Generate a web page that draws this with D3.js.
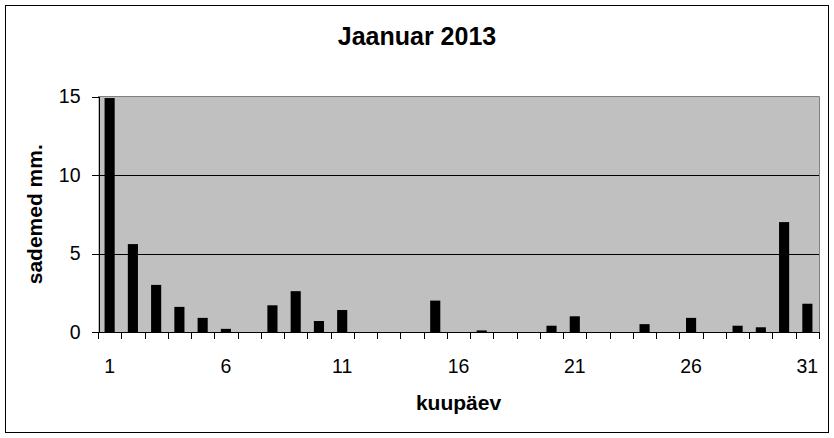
<!DOCTYPE html>
<html lang="et">
<head>
  <meta charset="UTF-8">
  <script src="https://cdn.jsdelivr.net/npm/d3@7"></script>
  <title>Jaanuar 2013</title>
  <style>
    body { margin: 0; background: white; }
    * { font-family: 'Liberation Sans', Arial, sans-serif; }
    .axis text { font-size: 19.5px; fill: black; }
    .axis line, .axis path { stroke: black; shape-rendering: crispEdges; }
    .title { font-size: 25px; font-weight: bold; text-anchor: middle; }
    .label { font-size: 21px; font-weight: bold; text-anchor: middle; }
  </style>
</head>
<body>
  <script>
    // sademed (mm) päevade kaupa
    const days = d3.range(1, 32);
    const rain = [14.9, 5.6, 3.0, 1.6, 0.9, 0.2, 0, 1.7, 2.6, 0.7,
                  1.4, 0, 0, 0, 2.0, 0, 0.1, 0, 0, 0.4,
                  1.0, 0, 0, 0.5, 0, 0.9, 0, 0.4, 0.3, 7.0, 1.8];
    const yTicks = [0, 5, 10, 15];
    const xTicks = [1, 6, 11, 16, 21, 26, 31];

    const width = 834, height = 438;
    const plotL = 98, plotR = 819, plotT = 96.5, plotB = 332;

    const svg = d3.select('body').append('svg').attr('width', width).attr('height', height);

    svg.append('rect').attr('x', 5.5).attr('y', 5.5).attr('width', 823).attr('height', 427)
      .attr('fill', 'white').attr('stroke', 'black');

    const x = d3.scaleBand().domain(days).range([plotL, plotR])
      .paddingInner(0.565).paddingOuter(0.2825);
    const y = d3.scaleLinear().domain([0, 15]).range([plotB, plotT]);

    // plot area
    svg.append('rect').attr('x', plotL).attr('y', plotT).attr('width', plotR - plotL).attr('height', plotB - plotT)
      .attr('fill', '#c0c0c0');

    svg.append('g').selectAll('line').data(yTicks.filter(d => d > 0 && d < 15)).enter().append('line')
      .attr('x1', plotL).attr('x2', plotR).attr('y1', d => Math.round(y(d)) + 0.5).attr('y2', d => Math.round(y(d)) + 0.5)
      .attr('stroke', 'black');

    svg.append('path').attr('d', `M${plotL},${plotT}H${plotR + 0.5}V${plotB}`)
      .attr('fill', 'none').attr('stroke', '#808080');

    svg.append('g').selectAll('rect').data(days).enter().append('rect')
      .attr('x', d => x(d)).attr('width', x.bandwidth())
      .attr('y', (d, i) => y(rain[i])).attr('height', (d, i) => plotB - y(rain[i]))
      .attr('fill', 'black');

    // y axis
    const axisY = d3.axisLeft(y).tickValues(yTicks).tickSize(7).tickPadding(11).tickSizeOuter(0);
    svg.append('g').attr('class', 'axis').attr('transform', `translate(${plotL + 0.5},0)`).call(axisY);

    // x axis: ticks between the days, labels under bars
    const step = x.step();
    const bounds = days.map(d => x(d) - (step - x.bandwidth()) / 2).concat([plotR]);
    const gx = svg.append('g').attr('class', 'axis');
    gx.append('line').attr('x1', plotL).attr('x2', plotR + 1).attr('y1', plotB + 0.5).attr('y2', plotB + 0.5);
    gx.selectAll('.tk').data(bounds).enter().append('line').attr('class', 'tk')
      .attr('x1', d => Math.round(d) + 0.5).attr('x2', d => Math.round(d) + 0.5)
      .attr('y1', plotB).attr('y2', plotB + 7);
    gx.selectAll('text').data(xTicks).enter().append('text')
      .attr('x', d => x(d) + x.bandwidth() / 2).attr('y', 373)
      .attr('text-anchor', 'middle').text(d => d);

    svg.append('text').attr('class', 'title').attr('x', 417).attr('y', 45).text('Jaanuar 2013');
    svg.append('text').attr('class', 'label').attr('x', (plotL + plotR) / 2).attr('y', 410).text('kuupäev');
    svg.append('text').attr('class', 'label')
      .attr('transform', `translate(42,${(plotT + plotB) / 2}) rotate(-90)`).text('sademed mm.');
  </script>
</body>
</html>
